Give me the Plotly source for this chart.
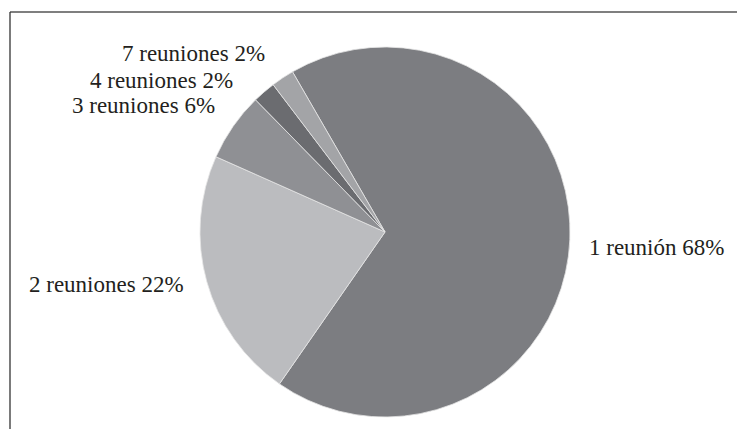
import plotly.graph_objects as go

labels = ["1 reunión", "2 reuniones", "3 reuniones", "4 reuniones", "7 reuniones"]
values = [68, 22, 6, 2, 2]
colors = ["#7c7d81", "#bbbcbf", "#8f9094", "#6b6c70", "#a3a4a7"]

W, H = 737, 429
cx, cy, r = 385, 232, 185

fig = go.Figure(go.Pie(
    labels=labels, values=values, sort=False, direction="clockwise", rotation=-30,
    marker=dict(colors=colors, line=dict(color="#e6e6e6", width=0.8)),
    textinfo="none", hoverinfo="label+percent", showlegend=False,
    domain=dict(x=[(cx - r) / W, (cx + r) / W], y=[(H - cy - r) / H, (H - cy + r) / H]),
))

# label positions (pixels): x, y center, anchor
label_pos = [(588, 248, "left"), (185, 284, "right"), (216, 106, "right"), (234, 81, "right"), (266, 54, "right")]
for lab, v, (x, y, anc) in zip(labels, values, label_pos):
    fig.add_annotation(x=x / W, y=1 - y / H, xref="paper", yref="paper", text=f"{lab} {v}%",
                       showarrow=False, xanchor=anc, yanchor="middle", borderpad=0,
                       font=dict(family="Liberation Serif", size=23, color="#231f20"))

# frame lines
fig.add_shape(type="line", xref="paper", yref="paper", x0=10 / W, x1=1, y0=1 - 12 / H, y1=1 - 12 / H,
              line=dict(color="#555555", width=1.3))
fig.add_shape(type="line", xref="paper", yref="paper", x0=10 / W, x1=10 / W, y0=1 - 12 / H, y1=0,
              line=dict(color="#333333", width=1.3))

fig.update_layout(width=W, height=H, margin=dict(l=0, r=0, t=0, b=0),
                  paper_bgcolor="white", plot_bgcolor="white")
fig.write_html("out.html", config={"displayModeBar": False},
               post_script="document.body.style.margin='0';document.body.style.overflow='hidden';")
